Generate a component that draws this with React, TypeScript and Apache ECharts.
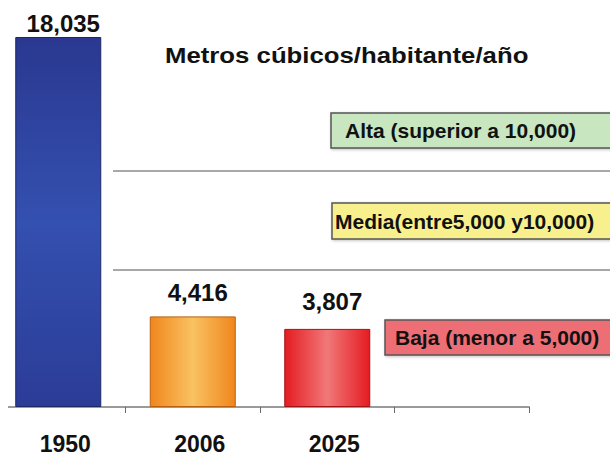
import React, { useEffect, useRef } from "react";
import * as echarts from "echarts";

const categories = ["1950", "2006", "2025", ""];
const values = [18035, 4416, 3807, null];
const valueLabels = ["18,035", "4,416", "3,807", ""];
const titleText = "Metros cúbicos/habitante/año";
const zoneTexts = ["Alta (superior a 10,000)", "Media(entre5,000 y10,000)", "Baja (menor a 5,000)"];

const FONT = "'Liberation Sans', Arial, sans-serif";

const barStyles = [
  {
    color: new echarts.graphic.LinearGradient(0, 0, 0, 1, [
      { offset: 0, color: "#2a3890" },
      { offset: 0.5, color: "#3450b0" },
      { offset: 1, color: "#2b3c97" },
    ]),
    borderColor: "#1c2766",
  },
  {
    color: new echarts.graphic.LinearGradient(0, 0, 1, 0, [
      { offset: 0, color: "#f0861c" },
      { offset: 0.5, color: "#f9c262" },
      { offset: 1, color: "#f0861c" },
    ]),
    borderColor: "#b86010",
  },
  {
    color: new echarts.graphic.LinearGradient(0, 0, 1, 0, [
      { offset: 0, color: "#e41c22" },
      { offset: 0.5, color: "#f17878" },
      { offset: 1, color: "#e41c22" },
    ]),
    borderColor: "#a01418",
  },
];
const labelDistances = [2, 12, 15];

const zoneBoxes = [
  { x: 331, y: 113, h: 35, tx: 345, fill: "#c8e6c0" },
  { x: 332, y: 203, h: 36, tx: 335, fill: "#f8f08c" },
  { x: 385, y: 320, h: 35, tx: 395, fill: "#ee6e74" },
];

export default function App() {
  const ref = useRef<HTMLDivElement>(null);
  useEffect(() => {
    if (!ref.current) return;
    const chart = echarts.init(ref.current, null, { renderer: "svg" });
    const graphics: any[] = [];
    [171, 270].forEach((y) => {
      graphics.push({
        type: "line",
        shape: { x1: 113, y1: y, x2: 612, y2: y },
        style: { stroke: "#a8a8a8", lineWidth: 2 },
        z: 1,
      });
    });
    zoneBoxes.forEach((b, i) => {
      graphics.push({
        type: "rect",
        shape: { x: b.x, y: b.y, width: 300, height: b.h },
        style: {
          fill: b.fill,
          stroke: "#555555",
          lineWidth: 1.5,
          shadowBlur: 3,
          shadowColor: "rgba(0,0,0,0.25)",
          shadowOffsetX: 1,
          shadowOffsetY: 1,
        },
        z: 2,
      });
      graphics.push({
        type: "text",
        x: b.tx,
        y: b.y + b.h / 2,
        style: {
          text: zoneTexts[i],
          font: `bold 21px ${FONT}`,
          fill: "#111111",
          verticalAlign: "middle",
          align: "left",
        },
        z: 3,
      });
    });
    graphics.push({
      type: "text",
      x: 165,
      y: 55,
      scaleX: 1.12,
      style: {
        text: titleText,
        font: `bold 23px ${FONT}`,
        fill: "#111111",
        verticalAlign: "middle",
        align: "left",
      },
      z: 3,
    });
    graphics.push({
      type: "rect",
      shape: { x: 0, y: 403, width: 8, height: 10 },
      style: { fill: "#ffffff" },
      z: 10,
    });

    chart.setOption({
      animation: false,
      backgroundColor: "#ffffff",
      grid: {
        left: -9,
        width: 538,
        top: 37,
        bottom: 48,
        containLabel: false,
        outerBoundsMode: "none",
      },
      xAxis: {
        type: "category",
        data: categories,
        axisLine: { lineStyle: { color: "#9a9a9a", width: 2 } },
        axisTick: { show: true, length: 6, lineStyle: { color: "#6a6a6a", width: 1 } },
        axisLabel: {
          color: "#111111",
          fontFamily: FONT,
          fontWeight: "bold",
          fontSize: 23,
          margin: 25,
          padding: [0, 0, 0, 14],
        },
        splitLine: { show: false },
      },
      yAxis: {
        type: "value",
        min: 0,
        max: 18035,
        show: false,
        splitLine: { show: false },
      },
      series: [
        {
          type: "bar",
          barWidth: 86,
          data: values.map((v, i) =>
            v == null
              ? null
              : {
                  value: v,
                  itemStyle: { color: barStyles[i].color, borderColor: barStyles[i].borderColor, borderWidth: 1 },
                  label: { distance: labelDistances[i] },
                }
          ),
          label: {
            show: true,
            position: "top",
            offset: [5, 0],
            formatter: (p: any) => valueLabels[p.dataIndex],
            color: "#111111",
            fontFamily: FONT,
            fontWeight: "bold",
            fontSize: 24,
          },
        },
      ],
      graphic: graphics,
    });
    return () => chart.dispose();
  }, []);
  return (
    <div
      ref={ref}
      style={{ position: "fixed", left: 0, top: 0, width: 610, height: 455 }}
    />
  );
}
